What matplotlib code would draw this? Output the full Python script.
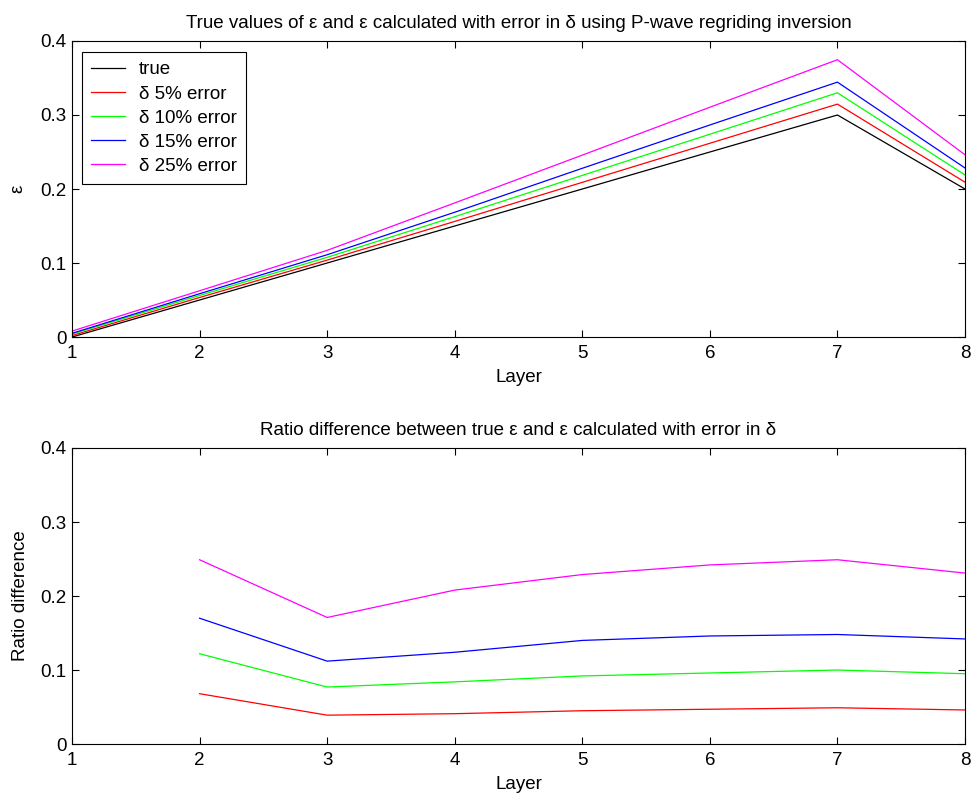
import numpy as np
import matplotlib.pyplot as plt

plt.rcParams['font.family'] = ['Liberation Sans', 'DejaVu Sans']
plt.rcParams['font.size'] = 13.5

layers = [1, 2, 3, 4, 5, 6, 7, 8]

# epsilon: true values and values recovered with error in delta
eps_true = [0.0, 0.05, 0.10, 0.15, 0.20, 0.25, 0.30, 0.20]
eps_d5 = [0.002, 0.0534, 0.1039, 0.1562, 0.2090, 0.2618, 0.3147, 0.2092]
eps_d10 = [0.004, 0.0561, 0.1077, 0.1626, 0.2184, 0.2740, 0.3300, 0.2190]
eps_d15 = [0.005, 0.0585, 0.1112, 0.1686, 0.2280, 0.2865, 0.3444, 0.2284]
eps_d25 = [0.008, 0.0625, 0.1171, 0.1812, 0.2458, 0.3105, 0.3747, 0.2462]

# ratio difference (undefined at layer 1 where true epsilon is 0)
ratio_d5 = [np.nan, 0.068, 0.039, 0.041, 0.045, 0.047, 0.049, 0.046]
ratio_d10 = [np.nan, 0.122, 0.077, 0.084, 0.092, 0.096, 0.100, 0.095]
ratio_d15 = [np.nan, 0.170, 0.112, 0.124, 0.140, 0.146, 0.148, 0.142]
ratio_d25 = [np.nan, 0.249, 0.171, 0.208, 0.229, 0.242, 0.249, 0.231]

labels = ['true', 'δ 5% error', 'δ 10% error', 'δ 15% error', 'δ 25% error']
colors = ['k', (1, 0, 0), (0, 1, 0), (0, 0, 1), (1, 0, 1)]
yticks = [0, 0.1, 0.2, 0.3, 0.4]
ytick_labels = ['0', '0.1', '0.2', '0.3', '0.4']

fig = plt.figure(figsize=(9.72, 7.99), dpi=100)
ax1 = fig.add_axes([0.0741, 0.5782, 0.9187, 0.3705])
ax2 = fig.add_axes([0.0741, 0.0688, 0.9187, 0.3705])


def style(ax):
    ax.set_xlim(1, 8)
    ax.set_ylim(0, 0.4)
    ax.set_xticks(layers)
    ax.set_yticks(yticks)
    ax.set_yticklabels(ytick_labels)
    ax.tick_params(direction='in', top=True, right=True, length=5, width=0.8,
                   labelsize=13.5, pad=4)
    ax.tick_params(axis='x', pad=6)
    for s in ax.spines.values():
        s.set_linewidth(0.8)
    ax.set_xlabel('Layer', labelpad=5)


for vals, lab, c in zip([eps_true, eps_d5, eps_d10, eps_d15, eps_d25], labels, colors):
    ax1.plot(layers, vals, color=c, lw=0.9, label=lab)
style(ax1)
ax1.set_ylabel('ε', labelpad=10)
ax1.set_title('True values of ε and ε calculated with error in δ using P-wave regriding inversion',
              fontsize=13.5, pad=9)
leg = ax1.legend(loc='upper left', fancybox=False, edgecolor='k', framealpha=1,
                 handlelength=1.8, handletextpad=0.75, borderpad=0.5,
                 labelspacing=0.37, borderaxespad=0, fontsize=13.5,
                 bbox_to_anchor=(0.011, 0.963))
leg.get_frame().set_linewidth(0.8)

for vals, c in zip([ratio_d5, ratio_d10, ratio_d15, ratio_d25], colors[1:]):
    ax2.plot(layers, vals, color=c, lw=0.9)
style(ax2)
ax2.set_ylabel('Ratio difference', labelpad=8)
ax2.set_title('Ratio difference between true ε and ε calculated with error in δ',
              fontsize=13.5, pad=9)

fig.savefig('out.png', dpi=100)
